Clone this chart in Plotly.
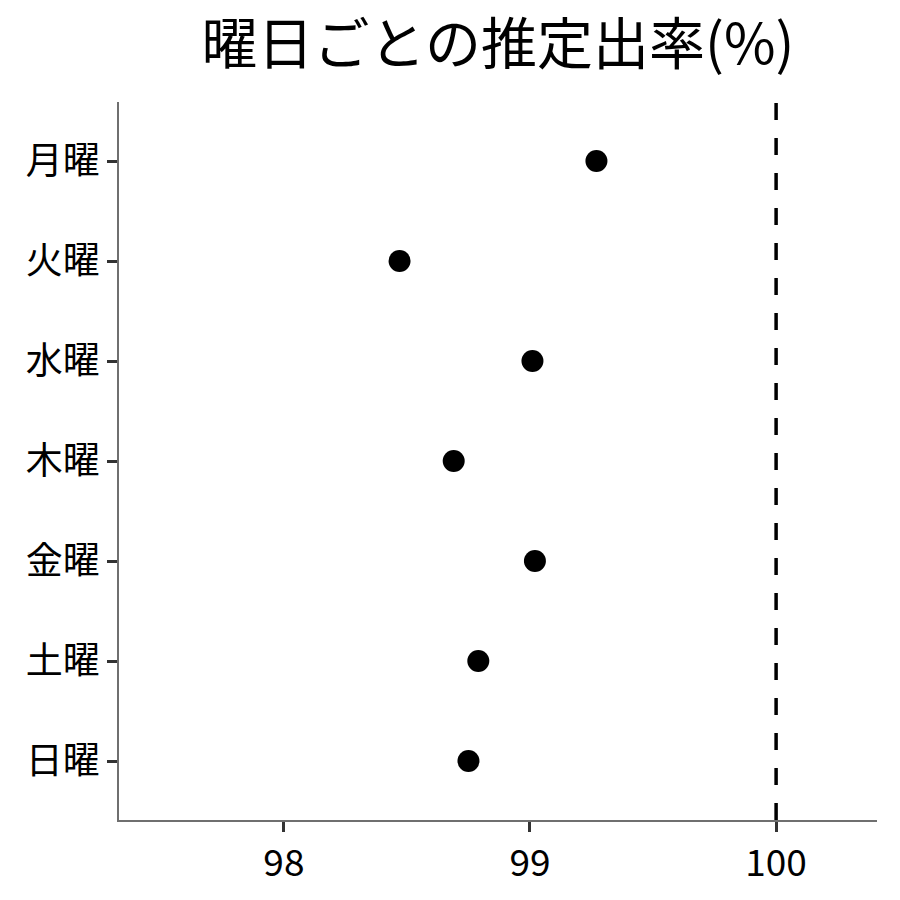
import plotly.graph_objects as go

# estimated attendance rate by weekday
days = ["月曜", "火曜", "水曜", "木曜", "金曜", "土曜", "日曜"]
rates = [99.27, 98.47, 99.01, 98.69, 99.02, 98.79, 98.75]
x_ticks = [98, 99, 100]
ref_value = 100

font_name = "Noto Sans CJK JP"

fig = go.Figure()
fig.add_trace(go.Scatter(
    x=rates, y=days, mode="markers",
    marker=dict(size=22, color="black"),
    showlegend=False, cliponaxis=False,
))

# dashed reference line at 100%
fig.add_vline(x=ref_value, line=dict(color="black", width=3.5, dash="17px,18px"))

fig.update_layout(
    width=900, height=900,
    paper_bgcolor="white", plot_bgcolor="white",
    margin=dict(l=111, r=31, t=94, b=88),
    font=dict(family=font_name, color="black"),
    title=dict(text="曜日ごとの推定出率(%)", x=0.5, xref="paper", xanchor="center",
               y=0.96, yanchor="middle", font=dict(size=56, family=font_name, color="black")),
)
fig.update_xaxes(
    range=[97.33, 100.41], tickvals=x_ticks, showgrid=False, zeroline=False,
    showline=True, linecolor="#6f6f6f", linewidth=1.5,
    ticks="outside", ticklen=10, tickwidth=3, tickcolor="#333333",
    tickfont=dict(size=37, family=font_name, color="black"),
)
fig.update_yaxes(
    type="category", categoryorder="array", categoryarray=days,
    range=[6.59, -0.59], showgrid=False, zeroline=False,
    showline=True, linecolor="#6f6f6f", linewidth=1.5,
    ticks="outside", ticklen=10, tickwidth=3, tickcolor="#333333",
    tickfont=dict(size=37, family=font_name, color="black"),
)

fig.write_html("out.html")
